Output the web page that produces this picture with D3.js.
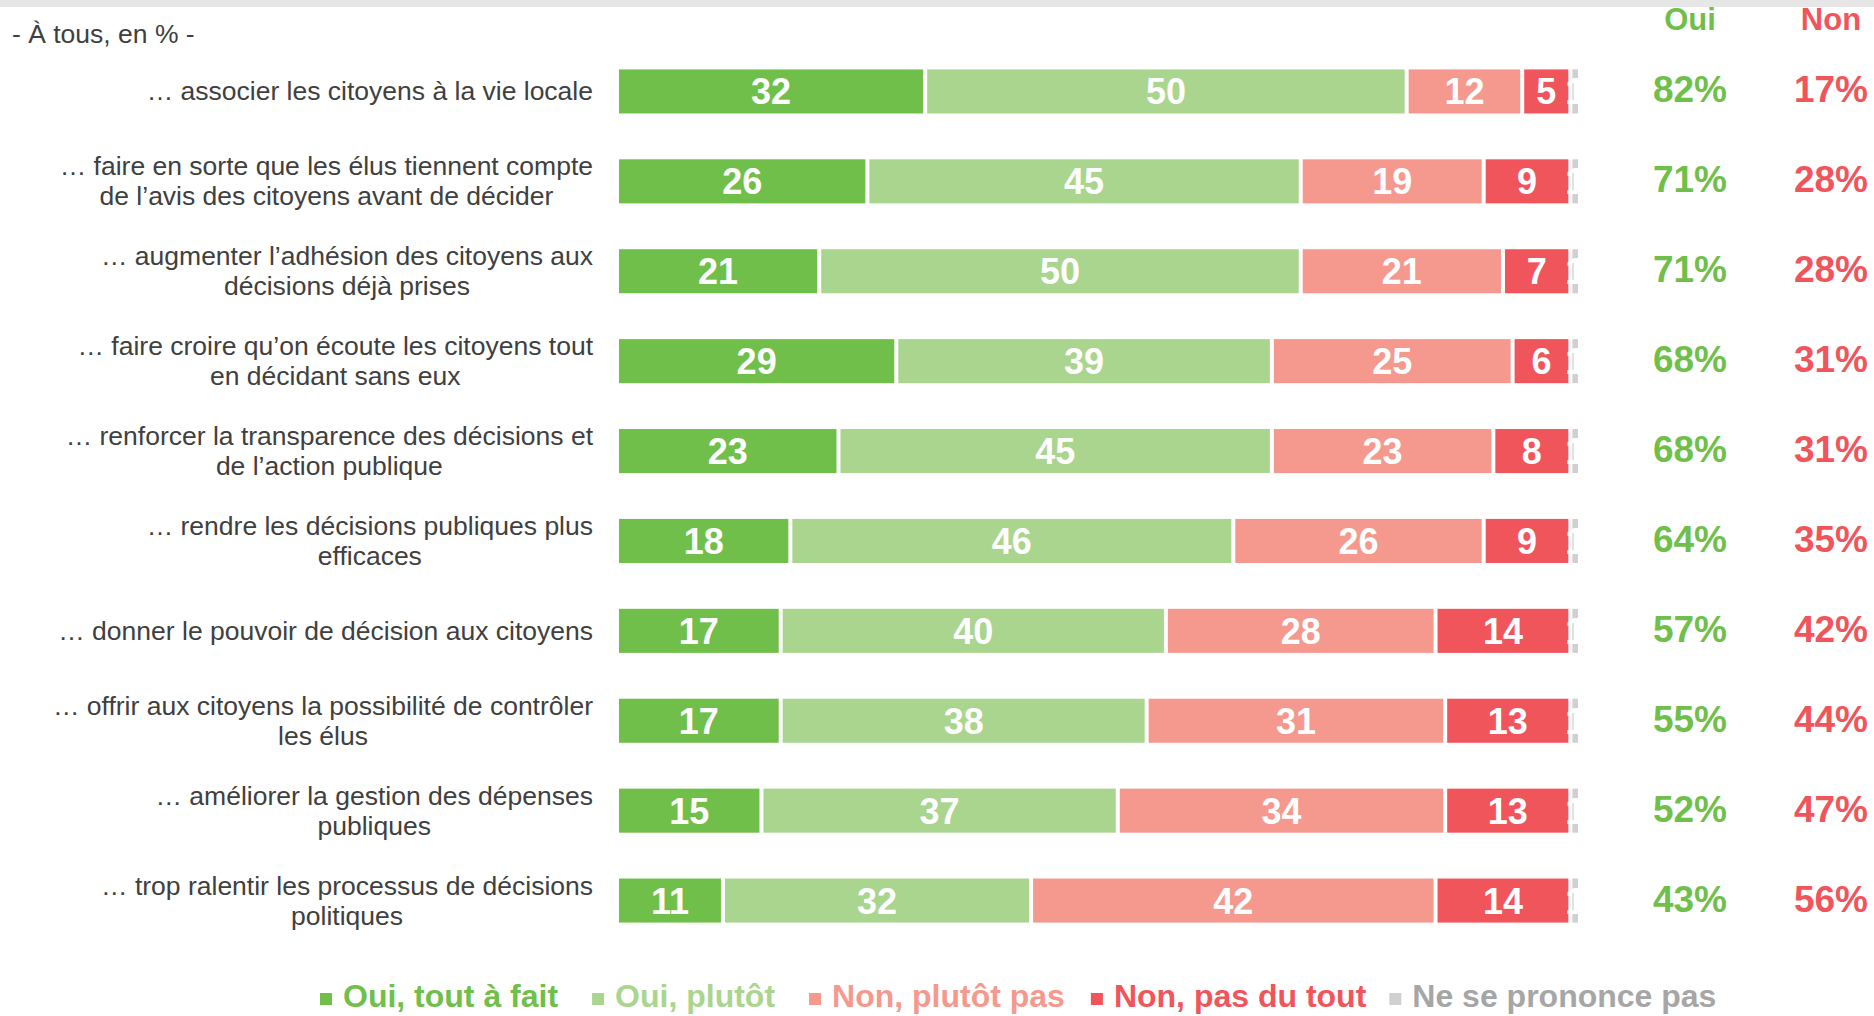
<!DOCTYPE html>
<html>
<head>
<meta charset="utf-8">
<script src="https://cdn.jsdelivr.net/npm/d3@7"></script>
<style>
  body { margin: 0; background: #fff; }
  svg { display: block; }
  text { font-family: "Liberation Sans", Arial, sans-serif; }
</style>
</head>
<body>
<div id="chart"></div>
<script>
// categories (line breaks as in the original slide)
const categories = [
  "… associer les citoyens à la vie locale",
  "… faire en sorte que les élus tiennent compte\nde l’avis des citoyens avant de décider",
  "… augmenter l’adhésion des citoyens aux\ndécisions déjà prises",
  "… faire croire qu’on écoute les citoyens tout\nen décidant sans eux",
  "… renforcer la transparence des décisions et\nde l’action publique",
  "… rendre les décisions publiques plus\nefficaces",
  "… donner le pouvoir de décision aux citoyens",
  "… offrir aux citoyens la possibilité de contrôler\nles élus",
  "… améliorer la gestion des dépenses\npubliques",
  "… trop ralentir les processus de décisions\npolitiques"
];
const toutAFait = [32, 26, 21, 29, 23, 18, 17, 17, 15, 11];
const plutot    = [50, 45, 50, 39, 45, 46, 40, 38, 37, 32];
const plutotPas = [12, 19, 21, 25, 23, 26, 28, 31, 34, 42];
const pasDuTout = [5, 9, 7, 6, 8, 9, 14, 13, 13, 14];
const nsp       = [1, 1, 1, 1, 1, 1, 1, 1, 1, 1];
const ouiTotal  = [82, 71, 71, 68, 68, 64, 57, 55, 52, 43];
const nonTotal  = [17, 28, 28, 31, 31, 35, 42, 44, 47, 56];

const seriesNames = ["Oui, tout à fait", "Oui, plutôt", "Non, plutôt pas", "Non, pas du tout", "Ne se prononce pas"];
const seriesColors = ["#70bf4b", "#a9d58e", "#f5998f", "#f0555c", "#d0d0d0"];
const legendText = ["#70bf4b", "#a9d58e", "#f5998f", "#f0555c", "#a6a6a6"];

const W = 1874, H = 1016;
const svg = d3.select("#chart").append("svg").attr("width", W).attr("height", H);

// top grey band
svg.append("rect").attr("x", 0).attr("y", 0).attr("width", W).attr("height", 7).attr("fill", "#e6e6e6");

svg.append("text").attr("x", 12).attr("y", 43)
  .attr("font-size", "26.5px").attr("fill", "#404040")
  .text("- À tous, en % -");

const rows = categories.map((c, i) => ({
  cat: c, s0: toutAFait[i], s1: plutot[i], s2: plutotPas[i], s3: pasDuTout[i], s4: nsp[i]
}));
const keys = ["s0", "s1", "s2", "s3", "s4"];
const stacked = d3.stack().keys(keys)(rows);

const x = d3.scaleLinear().domain([0, 100]).range([617, 1580]);
const y = d3.scaleBand().domain(categories).range([46.5, 945.5]).paddingInner(0.51).paddingOuter(0.255);
const bh = y.bandwidth();

const layers = svg.append("g").selectAll("g").data(stacked).enter().append("g")
  .attr("fill", (d, i) => seriesColors[i]);

layers.selectAll("rect").data(d => d).enter().append("rect")
  .attr("x", d => x(d[0]) + 2)
  .attr("y", d => y(d.data.cat))
  .attr("width", d => Math.max(0, x(d[1]) - x(d[0]) - 4))
  .attr("height", bh);

layers.selectAll("text").data(d => d).enter().append("text")
  .attr("x", d => (x(d[0]) + x(d[1])) / 2)
  .attr("y", d => y(d.data.cat) + bh / 2 + 13)
  .attr("text-anchor", "middle")
  .attr("font-size", "36px").attr("font-weight", "bold").attr("fill", "#fff")
  .text(d => d[1] - d[0]);

// category labels: lines centred on each other, block right-aligned
const labelRight = 593;
categories.forEach((c, i) => {
  const lines = c.split("\n");
  const cy = y(c) + bh / 2;
  const t = svg.append("text").attr("font-size", "26.5px").attr("fill", "#404040")
    .attr("text-anchor", "middle");
  const spans = lines.map((l, j) => t.append("tspan")
    .attr("y", cy + 9 + (j - (lines.length - 1) / 2) * 30).text(l));
  const maxW = d3.max(spans, s => s.node().getComputedTextLength());
  spans.forEach(s => s.attr("x", labelRight - maxW / 2));
});

// Oui / Non totals
const colOui = 1690, colNon = 1831;
svg.append("text").attr("x", colOui).attr("y", 30).attr("text-anchor", "middle")
  .attr("font-size", "31px").attr("font-weight", "bold").attr("fill", seriesColors[0]).text("Oui");
svg.append("text").attr("x", colNon).attr("y", 30).attr("text-anchor", "middle")
  .attr("font-size", "31px").attr("font-weight", "bold").attr("fill", seriesColors[3]).text("Non");

svg.append("g").selectAll("text").data(ouiTotal).enter().append("text")
  .attr("x", colOui).attr("y", (d, i) => y(categories[i]) + bh / 2 + 11)
  .attr("text-anchor", "middle").attr("font-size", "37px").attr("font-weight", "bold")
  .attr("fill", seriesColors[0]).text(d => d + "%");
svg.append("g").selectAll("text").data(nonTotal).enter().append("text")
  .attr("x", colNon).attr("y", (d, i) => y(categories[i]) + bh / 2 + 11)
  .attr("text-anchor", "middle").attr("font-size", "37px").attr("font-weight", "bold")
  .attr("fill", seriesColors[3]).text(d => d + "%");

// legend
const legendGaps = [34, 34, 26, 23];
let lx = 320;
const ly = 1007;
seriesNames.forEach((n, i) => {
  svg.append("rect").attr("x", lx).attr("y", ly - 14).attr("width", 12).attr("height", 12)
    .attr("fill", seriesColors[i]);
  const t = svg.append("text").attr("x", lx + 23).attr("y", ly)
    .attr("font-size", "32px").attr("font-weight", "bold").attr("fill", legendText[i]).text(n);
  lx += 23 + t.node().getComputedTextLength() + (legendGaps[i] || 0);
});
</script>
</body>
</html>
